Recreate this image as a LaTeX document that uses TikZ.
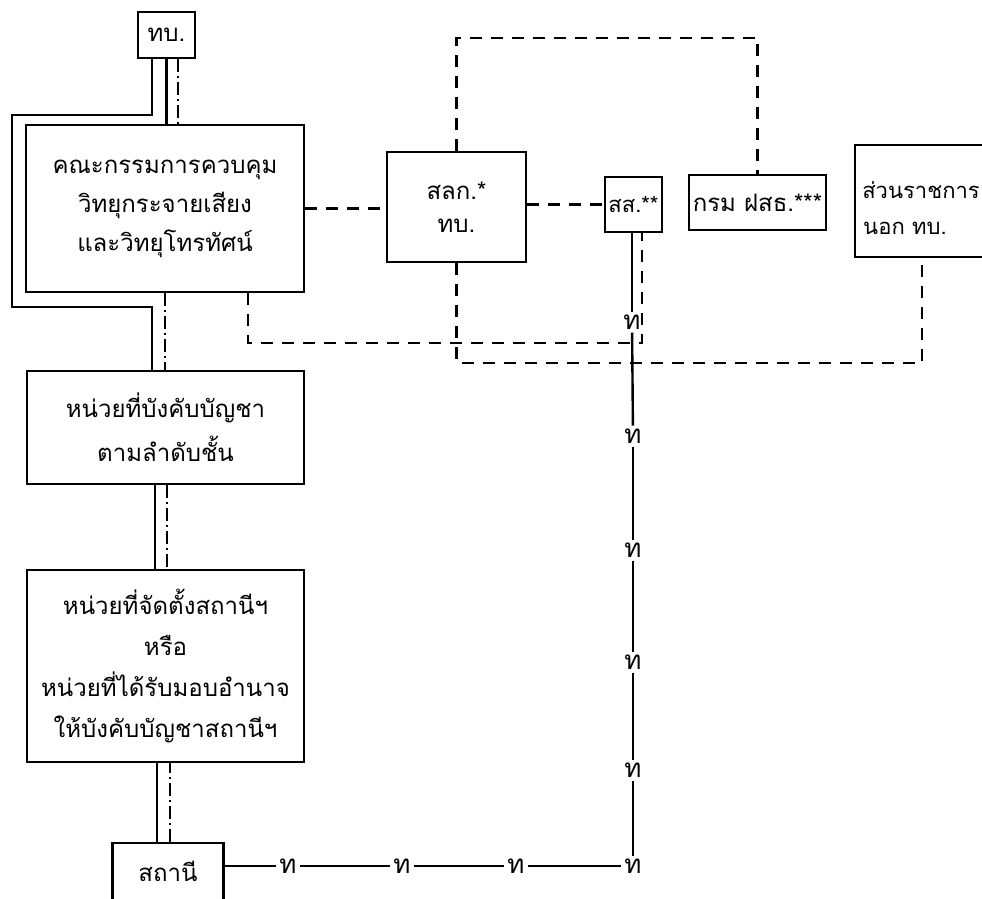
\documentclass[tikz,border=0pt]{standalone}
\usepackage{fontspec}
\newfontfamily\thai[Script=Thai]{Loma}
\begin{document}
\begin{tikzpicture}[x=1pt,y=-1pt,
  box/.style={draw, line width=2.4pt, inner sep=0pt, align=center,
    font=\thai\fontsize{24}{39}\selectfont},
  txt/.style={inner sep=0pt, font=\thai\fontsize{22}{22}\selectfont},
  sol/.style={line width=2.4pt},
  dsh/.style={line width=2.4pt, dash pattern=on 12pt off 9pt},
  dd/.style={line width=2pt, dash pattern=on 13pt off 4pt on 2pt off 4pt},
  lab/.style={inner sep=3pt, font=\thai\fontsize{26}{26}\selectfont}
]
\useasboundingbox[fill=white] (0,0) rectangle (982,898);

% boxes
\node[box, minimum width=57pt, minimum height=46pt] (tb) at (166.5,35) {ทบ.};
\node[box, minimum width=278pt, minimum height=167pt] (k) at (165,208.5)
  {คณะกรรมการควบคุม\\วิทยุกระจายเสียง\\และวิทยุโทรทัศน์};
\node[box, minimum width=277pt, minimum height=113pt,
  font=\thai\fontsize{24}{44}\selectfont] (b2) at (165.5,427.5)
  {หน่วยที่บังคับบัญชา\\ตามลำดับชั้น};
\node[box, minimum width=277pt, minimum height=192pt,
  font=\thai\fontsize{24}{41}\selectfont] (b3) at (165.5,666)
  {หน่วยที่จัดตั้งสถานีฯ\\หรือ\\หน่วยที่ได้รับมอบอำนาจ\\ให้บังคับบัญชาสถานีฯ};
\node[box, minimum width=111pt, minimum height=62pt] (st) at (168,874)
  {\raisebox{6pt}{สถานี}};
\node[box, minimum width=139pt, minimum height=110pt,
  font=\thai\fontsize{24}{33}\selectfont] (llk) at (456.5,207) {สลก.*\\ทบ.};
\node[box, minimum width=57pt, minimum height=55pt,
  font=\thai\fontsize{22}{22}\selectfont] (ss) at (633.5,204.5) {สส.**};
\node[box, minimum width=137pt, minimum height=55pt] (krm) at (757.5,202.5) {กรม ฝสธ.***};
\node[box, minimum width=140pt, minimum height=112pt] (nr) at (925,201) {};
\node[txt] (nr1) at (921,190) {ส่วนราชการ};
\node[txt] (nr2) at (905,228) {นอก ทบ.};

% ทบ. -> คณะกรรมการ
\draw[sol] (tb.south) -- (tb.south |- k.north);
\draw[dd] ([xshift=11.5pt]tb.south) -- ([xshift=11.5pt]tb.south |- k.north);
\coordinate (la) at (12,115);
\coordinate (lb) at (12,307);
\draw[sol] ([xshift=-14.5pt]tb.south) |- (la) -- (lb) -| ([xshift=-13.5pt]b2.north);
\draw[dd] (k.south) -- (k.south |- b2.north);
% b2 -> b3
\draw[sol] ([xshift=-10.5pt]b2.south) -- ([xshift=-10.5pt]b2.south |- b3.north);
\draw[dd] ([xshift=1.5pt]b2.south) -- ([xshift=1.5pt]b2.south |- b3.north);
% b3 -> สถานี
\draw[sol] ([xshift=-11pt]st.north) -- ([xshift=-11pt]st.north |- b3.south);
\draw[dd] ([xshift=2pt]st.north) -- ([xshift=2pt]st.north |- b3.south);

% dashed links
\draw[dsh] (k.east) -- (k.east -| llk.west);
\draw[dsh] (llk.east |- ss.west) -- (ss.west);
\coordinate (dj) at (642,343);
\draw[dsh] ([xshift=83pt]k.south) |- (dj) -- (dj |- ss.south);
\coordinate (dk) at (922,363);
\draw[dsh] (llk.south) |- (dk) -- (dk |- nr.south);
\coordinate (dt) at (600,38);
\draw[dsh] (llk.north) |- (dt) -| (krm.north);

% solid chain with ท marks
\node[lab] (v1) at (632,322) {ท};
\node[lab] (v2) at (633,436) {ท};
\node[lab] (v3) at (633,550) {ท};
\node[lab] (v4) at (633,662) {ท};
\node[lab] (v5) at (633,770) {ท};
\node[lab] (c)  at (633,866) {ท};
\node[lab] (h3) at (516,866) {ท};
\node[lab] (h2) at (402,866) {ท};
\node[lab] (h1) at (288,866) {ท};
\draw[sol] ([xshift=-1.5pt]ss.south) -- ([xshift=-1.5pt]ss.south |- v1.north);
\draw[sol] (v1) -- (v2);
\draw[sol] (v2) -- (v3);
\draw[sol] (v3) -- (v4);
\draw[sol] (v4) -- (v5);
\draw[sol] (v5) -- (c);
\draw[sol] (c) -- (h3);
\draw[sol] (h3) -- (h2);
\draw[sol] (h2) -- (h1);
\draw[sol] (h1) -- (h1 -| st.east);
\end{tikzpicture}
\end{document}
